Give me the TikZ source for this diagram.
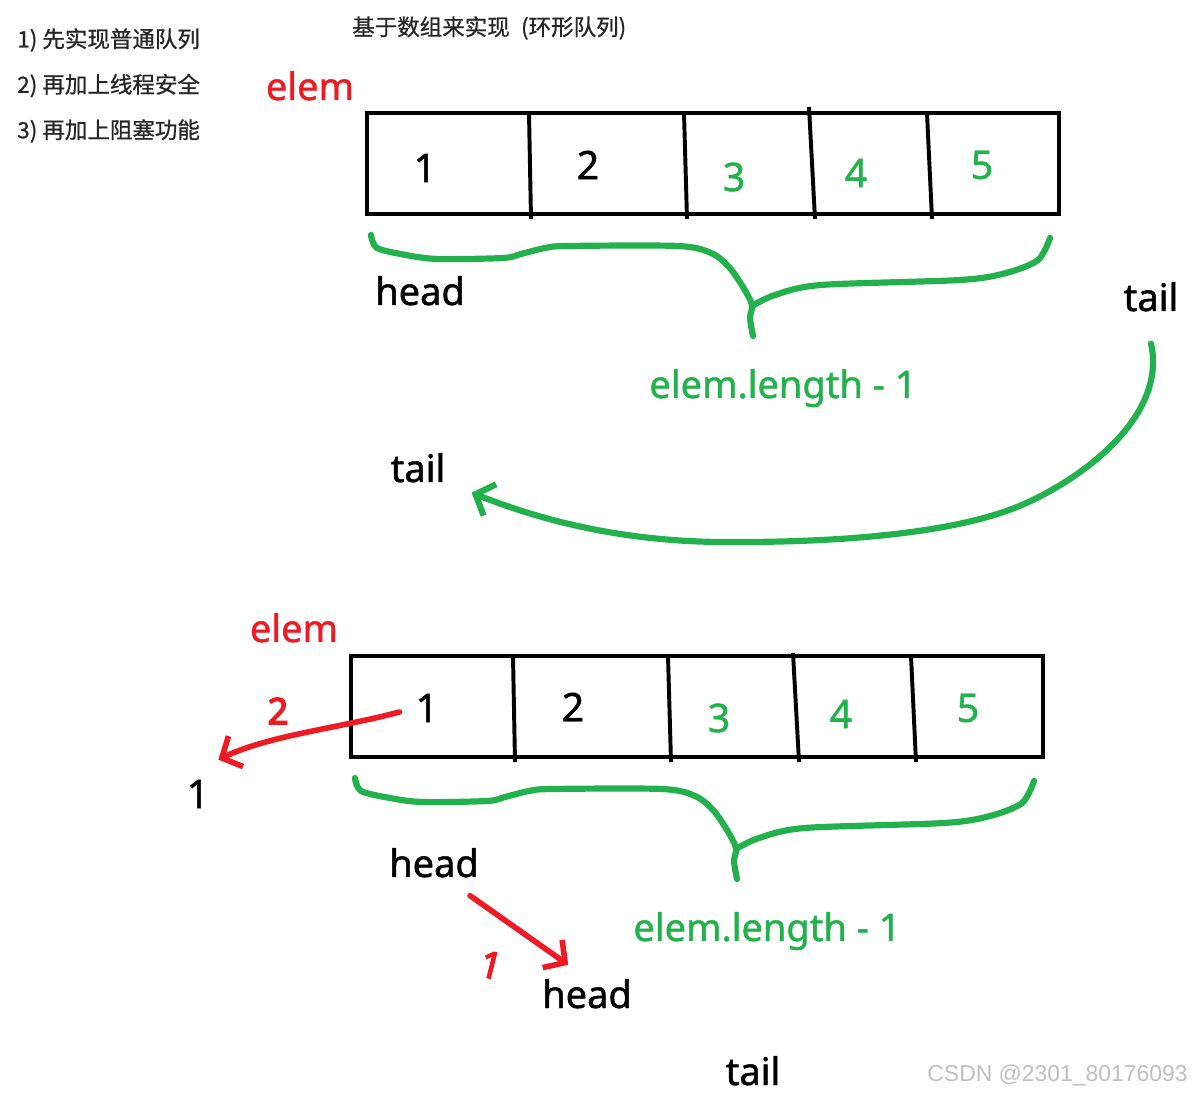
\documentclass[tikz,border=0pt]{standalone}
\usepackage{fontspec}
\setmainfont{Noto Sans}[FakeBold=1.2]
\newfontfamily\cjk{Noto Sans CJK SC}[FakeBold=0.8]
\newfontfamily\penfont{Noto Sans}[FakeBold=4]
\newfontfamily\wmfont{Liberation Sans}
\usetikzlibrary{arrows.meta}
\definecolor{pengreen}{RGB}{34,177,76}
\definecolor{penred}{RGB}{237,28,36}

\begin{document}
\begin{tikzpicture}[x=0.025cm, y=-0.025cm,
    cell/.style={line width=2.8pt},
    brace/.style={draw=pengreen, line width=4.4pt, line cap=round, line join=round},
    redpen/.style={draw=penred, line width=4pt, line cap=round, line join=round},
    word/.style={inner sep=0pt, anchor=base, font=\fontsize{27}{30}\selectfont},
    num/.style={inner sep=0pt, font=\fontsize{28}{30}\selectfont},
    hand/.style={inner sep=0pt, text=penred, font=\penfont\fontsize{26}{28}\selectfont},
    note/.style={inner sep=0pt, anchor=west, font=\cjk\fontsize{16}{18}\selectfont, text=black!85},
    >={Straight Barb[length=11pt, width=24pt]}]
    \useasboundingbox[fill=white] (0,0) rectangle (1193,1095);

    % notes
    \foreach \t [count=\i] in {先实现普通队列, 再加上线程安全, 再加上阻塞功能}
        \node[note] (step\i) at (17,{40+45.5*(\i-1)}) {\i) \t};
    \node[note] (title) at (352,28) {基于数组来实现\enspace(环形队列)};

    % queue before
    \begin{scope}
        \node[word, text=penred] (elemA) at (310,100) {elem};
        \draw[cell] (367,113) rectangle (1059,214);
        \foreach \xa/\xb/\ya in {529/531/113, 684/687/113, 809/815/107, 927/932/113}
            \draw[cell] (\xa,\ya) -- (\xb,219);
        \foreach \x/\y/\c [count=\i] in {425/168/black, 588/165/black, 734/177/pengreen, 856/173/pengreen, 982/165/pengreen}
            \node[num, text=\c] (a\i) at (\x,\y) {\i};
        \draw[brace] plot[smooth, tension=0.5] coordinates {(371,235) (377,248) (406,255) (438,259) (503,258) (521,254) (545,248) (568,246) (678,246) (711,253) (729,267) (743,287) (752,305) (750,318) (753,336)};
        \draw[brace] plot[smooth, tension=0.5] coordinates {(752,306) (775,295) (821,285) (960,280) (1006,273) (1038,260) (1050,238)};
        \node[word, text=pengreen] (lenA) at (783,398) {elem.length - 1};
    \end{scope}
    \node[word] (headA) at (420,305) {head};
    \node[word] (tailA) at (1151,311) {tail};
    \node[word] (tailB) at (418,482) {tail};
    \draw[brace,->] ([yshift=-0.8cm]tailA.south) .. controls (1168,420) and (1074,484) .. (1017,507)
        .. controls (960,530) and (860,543) .. (720,542)
        .. controls (620,541) and (540,520) .. ([shift={(0.65cm,-0.25cm)}]tailB.south east);

    % queue after
    \begin{scope}[shift={(-16,543)}]
        \node[word, text=penred] (elemB) at (310,99) {elem};
        \draw[cell] (367,113) rectangle (1059,214);
        \foreach \xa/\xb/\ya in {529/531/113, 684/687/113, 809/815/110, 927/932/113}
            \draw[cell] (\xa,\ya) -- (\xb,219);
        \foreach \x/\y/\c [count=\i] in {443/165/black, 589/164/black, 735/175/pengreen, 857/171/pengreen, 984/165/pengreen}
            \node[num, text=\c] (b\i) at (\x,\y) {\i};
        \draw[brace] plot[smooth, tension=0.5] coordinates {(371,235) (377,248) (406,255) (438,259) (503,258) (521,254) (545,248) (568,246) (678,246) (711,253) (729,267) (743,287) (752,305) (750,318) (753,336)};
        \draw[brace] plot[smooth, tension=0.5] coordinates {(752,306) (775,295) (821,285) (960,280) (1006,273) (1038,260) (1050,238)};
        \node[word, text=pengreen] (lenB) at (783,398) {elem.length - 1};
    \end{scope}
    \node[num] (out) at (198,794) {1};
    \node[hand] (takeB) at (278,711) {2};
    \node[word] (headB) at (434,877) {head};
    \node[word] (headC) at (587,1008) {head};
    \node[hand, rotate=-14] (takeA) at (491,965) {1};
    \node[word] (tailC) at (753,1085) {tail};
    \draw[redpen,->] ([shift={(-0.4cm,-0.1cm)}]b1.west) .. controls (340,728) and (270,735) .. ([shift={(0.22cm,0.5cm)}]out.north east);
    \draw[redpen,->] ([shift={(0.9cm,-0.45cm)}]headB.south) -- ([shift={(-0.47cm,0.35cm)}]headC.north);

    \node[inner sep=0pt, anchor=east, font=\wmfont\fontsize{16.3}{18}\selectfont, text=black!25] (csdn) at (1188,1075) {CSDN @2301\_80176093};
\end{tikzpicture}
\end{document}
